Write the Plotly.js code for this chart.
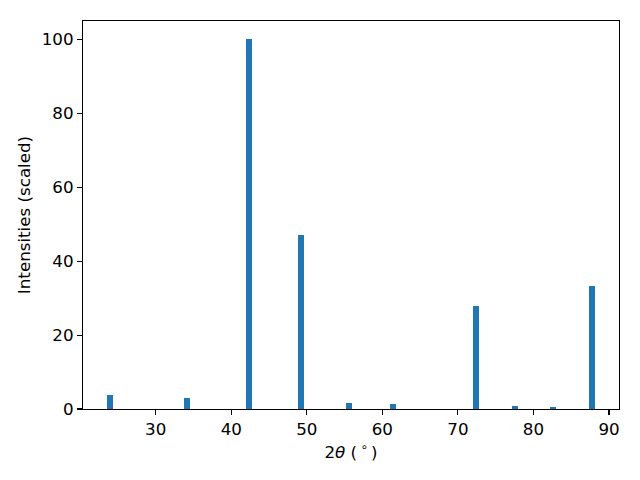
<!DOCTYPE html>
<html>
<head>
<meta charset="utf-8">
<script src="https://cdn.plot.ly/plotly-3.0.1.min.js"></script>
<style>html,body{margin:0;padding:0;background:#fff;}#chart{width:640px;height:480px;}</style>
</head>
<body>
<div id="chart"></div>
<script>
const twoTheta = [24.0, 34.2, 42.3, 49.2, 55.6, 61.4, 72.4, 77.6, 82.6, 87.7];
const intensities = [3.9, 3.0, 100, 47.2, 1.7, 1.4, 28.0, 0.9, 0.5, 33.4];
const xTicks = [30, 40, 50, 60, 70, 80, 90];
const yTicks = [0, 20, 40, 60, 80, 100];

const barWidth = 0.8;
const xmin = Math.min(...twoTheta) - barWidth / 2;
const xmax = Math.max(...twoTheta) + barWidth / 2;
const xpad = 0.05 * (xmax - xmin);
const ymax = Math.max(...intensities);

const font = {family: 'DejaVu Sans, sans-serif', size: 16.7, color: '#000'};

const trace = {
  type: 'bar',
  x: twoTheta,
  y: intensities,
  width: barWidth,
  marker: {color: '#1f77b4', line: {width: 0}},
  hoverinfo: 'skip'
};

const axisCommon = {
  showgrid: false,
  zeroline: false,
  showline: true,
  mirror: true,
  linecolor: '#000',
  linewidth: 1.1,
  ticks: 'outside',
  ticklen: 5,
  tickwidth: 1.1,
  tickcolor: '#000',
  tickfont: font
};

const layout = {
  width: 640,
  height: 480,
  margin: {l: 83, r: 21, t: 21, b: 71},
  paper_bgcolor: '#fff',
  plot_bgcolor: '#fff',
  font: font,
  showlegend: false,
  bargap: 0,
  xaxis: Object.assign({}, axisCommon, {
    range: [xmin - xpad, xmax + xpad],
    tickvals: xTicks,
    ticktext: xTicks.map(String),
    title: {text: '2<i>θ</i> (\u2009<sup>∘</sup>\u2009)', font: font, standoff: 8}
  }),
  yaxis: Object.assign({}, axisCommon, {
    range: [0, ymax * 1.05],
    tickvals: yTicks,
    ticktext: yTicks.map(String),
    title: {text: 'Intensities (scaled)', font: font, standoff: 6}
  })
};

Plotly.newPlot('chart', [trace], layout, {staticPlot: true, displayModeBar: false});
</script>
</body>
</html>
